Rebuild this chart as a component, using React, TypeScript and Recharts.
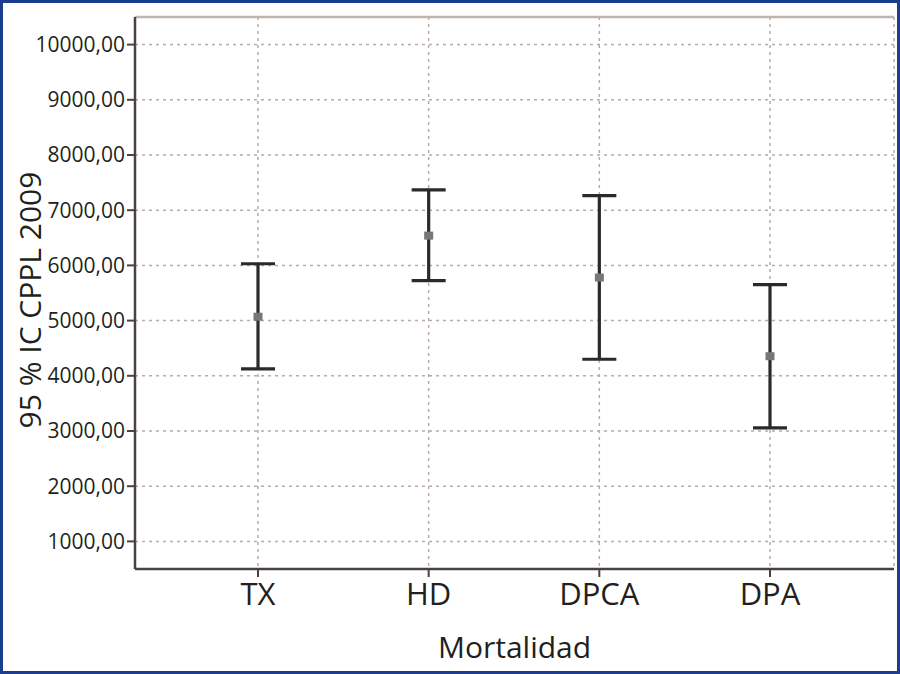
import {
  CartesianGrid,
  ComposedChart,
  ErrorBar,
  ReferenceLine,
  Scatter,
  XAxis,
  YAxis
} from "recharts";

const categories = ["TX", "HD", "DPCA", "DPA"];
const means = [5070, 6540, 5780, 4355];
const lowers = [4125, 5725, 4300, 3055];
const uppers = [6030, 7370, 7265, 5650];
const yTicks = [1000, 2000, 3000, 4000, 5000, 6000, 7000, 8000, 9000, 10000];

const data = categories.map((name, i) => ({
  name,
  mean: means[i],
  err: [means[i] - lowers[i], uppers[i] - means[i]]
}));

const FONT = "'Open Sans', 'Noto Sans', sans-serif";
const TEXT = "#231f20";

const MeanMark = (props: any) => {
  const { cx, cy } = props;
  if (cx == null || cy == null) return null;
  return <rect x={cx - 4.5} y={cy - 4} width={9} height={8} fill="#7a7674" />;
};

export default function App() {
  return (
    <div
      style={{
        position: "fixed",
        left: 0,
        top: 0,
        width: 900,
        height: 674,
        background: "#fff",
        fontFamily: FONT
      }}
    >
      <div
        style={{
          position: "absolute",
          inset: 0,
          border: "3px solid #1c3d8f",
          boxSizing: "border-box",
          pointerEvents: "none",
          zIndex: 2
        }}
      />
      <ComposedChart
        width={900}
        height={674}
        data={data}
        margin={{ top: 17, right: 6, left: 0, bottom: 0 }}
      >
        <CartesianGrid
          yAxisId="left"
          stroke="#b8aca6"
          strokeDasharray="3 4"
          strokeWidth={1.5}
          horizontal
          vertical
        />
        <XAxis
          dataKey="name"
          type="category"
          scale="point"
          padding={{ left: 123, right: 124 }}
          height={105}
          tickSize={8}
          tickMargin={6}
          axisLine={{ stroke: "#4a4242", strokeWidth: 2.5 }}
          tickLine={{ stroke: "#4a4242", strokeWidth: 2 }}
          tick={{ fill: TEXT, fontSize: 31, fontFamily: FONT }}
          label={{
            value: "Mortalidad",
            position: "insideBottom",
            offset: 16,
            fill: TEXT,
            fontSize: 30,
            fontFamily: FONT
          }}
        />
        <YAxis
          yAxisId="left"
          type="number"
          domain={[500, 10500]}
          ticks={yTicks}
          width={135}
          tickSize={8}
          tickMargin={2}
          allowDataOverflow
          tickFormatter={(v: number) => `${v},00`}
          axisLine={{ stroke: "#4a4242", strokeWidth: 2.5 }}
          tickLine={{ stroke: "#4a4242", strokeWidth: 2 }}
          tick={{ fill: TEXT, fontSize: 21, fontFamily: FONT }}
          label={{
            content: () => (
              <text
                x={29}
                y={300}
                transform="rotate(-90 29 300)"
                textAnchor="middle"
                dominantBaseline="central"
                fill={TEXT}
                fontSize={30}
                fontFamily={FONT}
              >
                95 % IC CPPL 2009
              </text>
            )
          }}
        />
        <YAxis
          yAxisId="right"
          orientation="right"
          type="number"
          domain={[500, 10500]}
          width={0}
          tick={false}
          tickLine={false}
          axisLine={{ stroke: "#bdb5b0", strokeWidth: 2.5 }}
        />
        <ReferenceLine
          yAxisId="left"
          y={10500}
          stroke="#bdb5b0"
          strokeWidth={2.5}
          ifOverflow="visible"
        />
        <Scatter
          yAxisId="left"
          dataKey="mean"
          shape={<MeanMark />}
          isAnimationActive={false}
        >
          <ErrorBar
            dataKey="err"
            direction="y"
            width={17}
            stroke="#2b2929"
            strokeWidth={3.2}
            isAnimationActive={false}
          />
        </Scatter>
      </ComposedChart>
    </div>
  );
}
